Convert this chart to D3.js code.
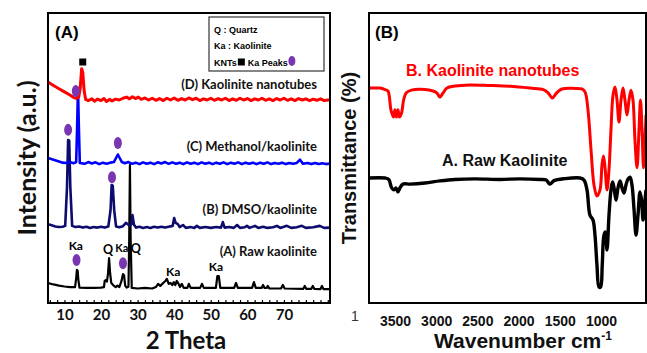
<!DOCTYPE html>
<html><head><meta charset="utf-8">
<script src="https://cdn.jsdelivr.net/npm/d3@7"></script>
<style>
html,body{margin:0;padding:0;background:#fff;}
svg{display:block;}
</style></head>
<body>
<svg id="c" width="647" height="353"></svg>
<script>
// ---------- DATA ----------
// Panel A: XRD, [2theta, intensity a.u.]
const xrdRaw = [[5.5,6.9],[7,6.4],[8.5,6.0],[10,5.7],[11.5,5.5],[12.9,5.5],[13.2,8.5],[13.4,11.4],[13.6,11.2],[13.8,8],[14.1,5.3],[16,5.2],[18,5.2],[20,5.3],[20.8,5.5],[21.0,7.6],[21.3,7.9],[21.6,7.4],[21.9,10],[22.2,15.5],[22.5,10],[22.8,6.9],[23.3,6.2],[24,5.5],[24.5,6.0],[25.0,5.5],[25.6,7.6],[26.0,10.0],[26.3,9.5],[26.6,6.0],[27.0,5.3],[27.5,5.6],[27.7,21.7],[27.9,47.6],[28.1,21.7],[28.4,5.2],[30,5.0],[32,5.2],[34,5.0],[35,5.5],[35.6,6.6],[36.2,5.9],[37.0,6.9],[37.6,7.6],[38.0,8.3],[38.5,6.6],[39.0,6.9],[39.5,6.2],[39.9,7.2],[40.3,6.2],[40.7,7.6],[41.2,6.6],[41.6,5.5],[42.1,6.6],[42.6,5.2],[43.6,5.2],[44.0,6.6],[44.5,5.2],[47.1,5.2],[47.6,6.6],[48.1,5.2],[51.4,5.2],[51.8,9.3],[52.2,9.3],[52.6,5.2],[56.4,5.2],[56.9,6.9],[57.4,5.2],[61.3,5.2],[61.8,7.2],[62.3,5.2],[63.9,5.2],[64.3,6.2],[64.7,5.2],[65.3,5.2],[65.6,5.9],[66.0,5.0],[69.2,5.0],[69.7,6.2],[70.2,5.0],[75.3,4.9],[75.7,5.9],[76.1,4.9],[77.5,4.9],[77.9,5.9],[78.3,4.9],[80.0,4.8],[80.4,5.9],[80.8,4.8],[82.6,4.8]];
const xrdDMSO = [[5.5,27.2],[6.5,26.8],[7.5,26.4],[8.5,26.2],[9.5,26.3],[10.2,26.6],[10.7,40],[11.0,56.2],[11.3,56.0],[11.6,40],[12.1,26.6],[13,26.2],[14,26.4],[15,26.0],[16,26.3],[17,25.9],[18,26.2],[19,26.0],[20,26.3],[21,26.0],[22.0,26.4],[22.6,32],[22.9,40.7],[23.2,40.5],[23.6,32],[24.1,26.4],[25,26.1],[26,26.5],[26.8,27.6],[27.3,27.2],[27.8,26.6],[28.3,27.2],[28.6,30.3],[29.0,27.0],[29.6,26.0],[30.5,26.3],[31.5,25.9],[32.5,26.2],[33.5,25.9],[34.5,26.3],[35.5,26.0],[36.5,26.3],[37.5,26.0],[38.5,26.3],[39.6,26.6],[40.0,29.3],[40.4,27.6],[41.0,27.2],[41.5,26.2],[42.4,26.9],[43.2,25.9],[44.5,26.2],[45.5,25.9],[46.2,26.6],[47,25.9],[48.5,26.2],[50,25.9],[51.5,26.2],[52.8,26.0],[53.3,27.9],[53.8,26.0],[55,26.2],[56.3,25.9],[57.2,26.9],[58,25.9],[59.2,26.1],[59.9,26.6],[60.6,25.9],[62.1,26.6],[63,25.9],[64.3,26.3],[65.5,25.9],[67,26.1],[68.1,26.6],[69,25.9],[70.8,26.6],[72,25.9],[73.5,26.1],[74.9,26.6],[76,25.9],[78,26.1],[79.8,26.6],[81,25.9],[82.6,26.0]];
const xrdMeOH = [[5.5,50.0],[7,49.4],[8.5,48.8],[9.5,48.4],[10.5,48.3],[11.5,48.6],[12.5,48.2],[13.2,48.6],[13.45,60],[13.7,74.0],[13.95,60],[14.2,48.3],[15.5,48.0],[16.5,48.6],[17.5,48.1],[18.5,48.5],[19.5,47.9],[20.5,48.4],[21.5,48.0],[22.5,48.4],[23.5,48.6],[24.1,50.0],[24.6,51.2],[25.1,50.0],[25.7,48.6],[26.5,48.2],[27.5,48.6],[28.5,48.0],[29.5,48.4],[30.5,47.9],[31.5,48.5],[32.5,48.0],[33.5,48.4],[34.5,47.9],[35.5,48.5],[36.5,48.1],[37.5,48.6],[38.5,48.0],[39.5,48.5],[40.5,48.0],[41.5,48.4],[42.5,47.9],[43.5,48.5],[44.5,48.0],[45.5,48.4],[46.5,47.9],[47.5,48.5],[48.5,48.0],[49.5,48.4],[50.5,47.9],[51.5,48.4],[52.5,48.0],[53.5,48.5],[54.5,47.9],[55.5,48.4],[56.5,48.0],[57.5,48.5],[58.5,47.9],[59.5,48.4],[60.5,48.0],[61.5,48.4],[62.5,47.9],[63.5,48.4],[64.5,48.0],[65.5,48.5],[66.5,47.9],[67.5,48.3],[68.5,48.0],[69.5,48.4],[70.5,47.9],[71.5,48.3],[72.5,48.0],[73.5,48.3],[74.4,49.4],[75.2,48.0],[76.5,48.3],[77.5,47.9],[78.5,48.3],[79.5,47.9],[80.5,48.2],[81.5,47.9],[82.6,48.1]];
const xrdKNT = [[5.5,76.2],[7,75.0],[8.5,73.9],[10,72.8],[11.5,71.7],[12.5,70.9],[13.3,70.5],[13.9,71.0],[14.3,74],[14.7,80.8],[15.0,79.5],[15.4,73],[15.8,70.2],[16.5,69.8],[17.5,70.4],[18.2,69.6],[19,70.3],[20,69.8],[20.8,70.5],[21.5,69.5],[22.3,70.2],[23,69.7],[24,70.3],[25,70.0],[26,70.6],[27,71.0],[27.8,70.4],[28.6,71.1],[29.4,70.5],[30.2,71.0],[31,70.2],[32,70.7],[33,70.0],[34,70.6],[35,69.9],[36,70.5],[37,69.8],[38,70.6],[39,70.0],[40,70.7],[41,69.9],[42,70.5],[43,70.0],[44,70.7],[45,70.1],[46,70.6],[47,69.8],[48,70.4],[49,70.0],[50,70.6],[51,69.9],[52,70.5],[53,70.0],[54,70.6],[55,69.8],[56,70.4],[57,69.9],[58,70.6],[59,70.0],[60,70.5],[61,69.8],[62,70.4],[63,70.0],[64,70.6],[65,69.9],[66,70.4],[67,69.8],[68,70.5],[69,70.0],[70,70.6],[71,69.9],[72,70.4],[73,69.8],[74,70.5],[75,70.0],[76,70.4],[77,69.8],[78,70.3],[79,69.9],[80,70.4],[81,69.8],[82.6,70.1]];

// Purple "Ka peak" markers [2theta, intensity]
const kaPeaks = [[13.1,73.1],[24.6,55.2],[11.0,59.7],[23.0,43.4],[13.3,14.8],[26.0,13.7]];
// KNT square marker
const kntPeak = [[15.0,83.1]];
// Peak letter labels on raw kaolinite [2theta, intensity, text, size]
const peakLabels = [[13.1,19.7,"Ka",12],[21.9,18.3,"Q",12.5],[25.7,19.0,"Ka",11],[29.5,18.6,"Q",12.5],[39.7,10.7,"Ka",12],[51.4,12.4,"Ka",12]];
const xrdNames = ["(D) Kaolinite nanotubes","(C) Methanol/kaolinite","(B) DMSO/kaolinite","(A) Raw kaolinite"];
const xrdNameY = [75.2, 54.1, 32.4, 17.9];
const xrdTicks = [10,20,30,40,50,60,70];

// Panel B: FTIR, [wavenumber, transmittance %]
const ftirKNT = [[3815,74.1],[3682,74.1],[3620,73.6],[3585,73.1],[3548,66.5],[3518,64.1],[3500,66.6],[3482,64.1],[3464,66.6],[3445,64.1],[3420,65.5],[3395,70.0],[3365,72.4],[3300,73.4],[3136,73.6],[3040,73.1],[2990,72.4],[2954,71.0],[2917,72.4],[2869,74.1],[2772,74.8],[2590,75.2],[2347,75.0],[2104,74.7],[1862,74.1],[1700,73.6],[1640,72.4],[1590,70.7],[1540,72.4],[1473,73.8],[1316,74.0],[1231,73.8],[1194,72.8],[1158,66.6],[1121,52.8],[1085,40.7],[1049,36.9],[1012,39.0],[988,47.6],[970,50.7],[951,46.6],[927,39.0],[903,45.9],[879,59.7],[854,71.7],[830,74.5],[806,70.0],[782,62.4],[757,70.0],[733,74.1],[709,70.0],[685,64.8],[660,70.0],[636,73.4],[612,70.0],[588,56.2],[563,46.6],[539,59.7],[521,70.0],[502,59.7],[484,46.6],[466,56.2],[454,64.8]];
const ftirRaw = [[3815,43.1],[3621,43.1],[3575,42.6],[3540,39.7],[3512,39.0],[3488,39.7],[3464,38.3],[3439,39.7],[3403,41.0],[3318,41.0],[3136,41.4],[2954,42.1],[2772,42.6],[2529,42.8],[2226,42.6],[1983,42.8],[1740,42.6],[1665,42.4],[1620,41.0],[1570,42.2],[1437,42.9],[1255,43.1],[1206,42.4],[1170,39.0],[1134,30.3],[1097,28.6],[1073,23.4],[1049,13.1],[1024,5.5],[1005,5.5],[985,13.1],[964,23.4],[946,24.5],[927,18.3],[903,30.3],[879,39.0],[860,41.7],[842,39.7],[818,35.5],[794,39.7],[769,42.1],[745,39.7],[721,37.9],[697,40.7],[672,42.8],[648,43.4],[624,40.7],[599,32.1],[575,23.4],[551,30.3],[527,38.3],[508,35.5],[490,28.6],[472,33.8],[454,39.0]];
const ftirNames = ["B. Kaolinite nanotubes","A. Raw Kaolinite"];
const ftirTicks = [3500,3000,2500,2000,1500,1000];

// ---------- DRAW ----------
const svg = d3.select("#c");
const A = {l:48, r:330, t:13, b:303};
const B = {l:369, r:646, t:13, b:303};

const xA = d3.scaleLinear().domain([5.5, 82.6]).range([A.l, A.r]);
const yA = d3.scaleLinear().domain([0, 100]).range([A.b, A.t]);
const xB = d3.scaleLinear().domain([3815, 454]).range([B.l, B.r]);
const yB = d3.scaleLinear().domain([0, 100]).range([B.b, B.t]);

const defs = svg.append("defs");
defs.append("clipPath").attr("id","clipA").append("rect").attr("x",A.l).attr("y",A.t).attr("width",A.r-A.l).attr("height",A.b-A.t);
defs.append("clipPath").attr("id","clipB").append("rect").attr("x",B.l).attr("y",B.t).attr("width",B.r-B.l).attr("height",B.b-B.t);

const fA = "Lato, 'Open Sans', sans-serif";
const fB = "'Liberation Sans', Arial, sans-serif";

// ---- Panel A ----
const gA = svg.append("g").attr("clip-path","url(#clipA)");
const lineA = d3.line().x(d=>xA(d[0])).y(d=>yA(d[1]));
[[xrdRaw,"#000000",2.2],[xrdDMSO,"#0c0c6e",2.6],[xrdMeOH,"#0000ff",2.6],[xrdKNT,"#ff0000",3]].forEach(([d,c,w])=>{
  gA.append("path").datum(d).attr("d",lineA).attr("fill","none").attr("stroke",c).attr("stroke-width",w).attr("stroke-linejoin","round");
});
gA.selectAll("ellipse.ka").data(kaPeaks).join("ellipse").attr("class","ka")
  .attr("cx",d=>xA(d[0])).attr("cy",d=>yA(d[1])).attr("rx",4).attr("ry",6).attr("fill","#7a35b0");
gA.selectAll("rect.knt").data(kntPeak).join("rect").attr("class","knt")
  .attr("x",d=>xA(d[0])-3.5).attr("y",d=>yA(d[1])-3.5).attr("width",7).attr("height",7).attr("fill","#000");

svg.append("g").selectAll("text").data(peakLabels).join("text")
  .attr("x",d=>xA(d[0])).attr("y",d=>yA(d[1])).attr("dy","0.35em").attr("text-anchor","middle")
  .attr("font-family",fA).attr("font-weight","bold").attr("font-size",d=>d[3]).text(d=>d[2]);

svg.append("g").selectAll("text").data(xrdNames).join("text")
  .attr("x",317).attr("y",(d,i)=>yA(xrdNameY[i])).attr("dy","0.35em").attr("text-anchor","end")
  .attr("font-family",fA).attr("font-weight","bold").attr("font-size",13).attr("fill","#111").text(d=>d);

// legend box
svg.append("rect").attr("x",209).attr("y",17).attr("width",115).attr("height",54).attr("fill","#fff").attr("stroke","#444").attr("stroke-width",1.3);
const lg = svg.append("g").attr("font-family",fB).attr("font-weight","bold").attr("font-size",9);
lg.append("text").attr("x",214).attr("y",32.5).text("Q : Quartz");
lg.append("text").attr("x",214).attr("y",48.5).text("Ka : Kaolinite");
const knt = lg.append("text").attr("x",214).attr("y",65.5).text("KNTs");
const kw = knt.node().getComputedTextLength();
lg.append("rect").attr("x",214+kw+1).attr("y",58.5).attr("width",7).attr("height",7).attr("fill","#000");
const kp = lg.append("text").attr("x",214+kw+11).attr("y",65.5).text("Ka Peaks");
const pw = kp.node().getComputedTextLength();
lg.append("ellipse").attr("cx",214+kw+11+pw+4).attr("cy",61).attr("rx",3.5).attr("ry",5).attr("fill","#7a35b0");

// frame A
svg.append("rect").attr("x",A.l).attr("y",A.t).attr("width",A.r-A.l).attr("height",A.b-A.t).attr("fill","none").attr("stroke","#000").attr("stroke-width",2);
// axis A
const axA = svg.append("g").attr("transform",`translate(0,${A.b})`)
  .call(d3.axisBottom(xA).tickValues(xrdTicks).tickSize(0).tickPadding(6).tickFormat(d3.format("d")));
axA.select(".domain").remove();
axA.selectAll("text").attr("font-family",fA).attr("font-weight","bold").attr("font-size",15).attr("fill","#111");
const minA = svg.append("g").attr("transform",`translate(0,${A.b})`)
  .call(d3.axisBottom(xA).tickValues(d3.range(6,83,2)).tickSizeInner(-3).tickSizeOuter(0).tickFormat(""));
minA.select(".domain").remove();
minA.selectAll("line").attr("stroke-width",1.2);

svg.append("text").attr("x",55).attr("y",32).attr("dy","0.35em").attr("font-family",fB).attr("font-weight","bold").attr("font-size",17).text("(A)");
svg.append("text").attr("x",186).attr("y",341).attr("dy","0.35em").attr("text-anchor","middle").attr("font-family",fA).attr("font-weight","bold").attr("font-size",24).attr("fill","#111").text("2 Theta");
svg.append("text").attr("transform","translate(27,158) rotate(-90)").attr("dy","0.35em").attr("text-anchor","middle").attr("font-family",fA).attr("font-weight","bold").attr("font-size",25).attr("fill","#111").text("Intensity (a.u.)");

// ---- Panel B ----
const gB = svg.append("g").attr("clip-path","url(#clipB)");
const lineB = d3.line().x(d=>xB(d[0])).y(d=>yB(d[1])).curve(d3.curveCatmullRom.alpha(0.5));
gB.append("path").datum(ftirRaw).attr("d",lineB).attr("fill","none").attr("stroke","#000").attr("stroke-width",3.4).attr("stroke-linejoin","round");
gB.append("path").datum(ftirKNT).attr("d",lineB).attr("fill","none").attr("stroke","#ff0000").attr("stroke-width",3).attr("stroke-linejoin","round");

svg.append("text").attr("x",406).attr("y",70).attr("dy","0.35em").attr("font-family",fB).attr("font-weight","bold").attr("font-size",16).attr("fill","#ff0000").text(ftirNames[0]);
svg.append("text").attr("x",442).attr("y",160).attr("dy","0.35em").attr("font-family",fB).attr("font-weight","bold").attr("font-size",16).attr("fill","#111").text(ftirNames[1]);

svg.append("rect").attr("x",B.l).attr("y",B.t).attr("width",B.r-B.l).attr("height",B.b-B.t).attr("fill","none").attr("stroke","#000").attr("stroke-width",2);
const axB = svg.append("g").attr("transform",`translate(0,${B.b})`)
  .call(d3.axisBottom(xB).tickValues(ftirTicks).tickSize(0).tickPadding(13).tickFormat(d3.format("d")));
axB.select(".domain").remove();
axB.selectAll("text").attr("font-family",fB).attr("font-weight","bold").attr("font-size",14).attr("fill","#111");

svg.append("text").attr("x",375).attr("y",32).attr("dy","0.35em").attr("font-family",fB).attr("font-weight","bold").attr("font-size",17).text("(B)");
svg.append("text").attr("x",355).attr("y",316).attr("dy","0.35em").attr("text-anchor","middle").attr("font-family",fB).attr("font-size",14).attr("fill","#333").text("1");
const wl = svg.append("text").attr("x",523).attr("y",341).attr("dy","0.35em").attr("text-anchor","middle").attr("font-family",fB).attr("font-weight","bold").attr("font-size",21).attr("fill","#111");
wl.append("tspan").text("Wavenumber cm");
wl.append("tspan").attr("font-size",12).attr("dy","-8").text("-1");
svg.append("text").attr("transform","translate(349,158) rotate(-90)").attr("dy","0.35em").attr("text-anchor","middle").attr("font-family",fB).attr("font-weight","bold").attr("font-size",20).attr("fill","#111").text("Transmittance (%)");
</script>
</body></html>
